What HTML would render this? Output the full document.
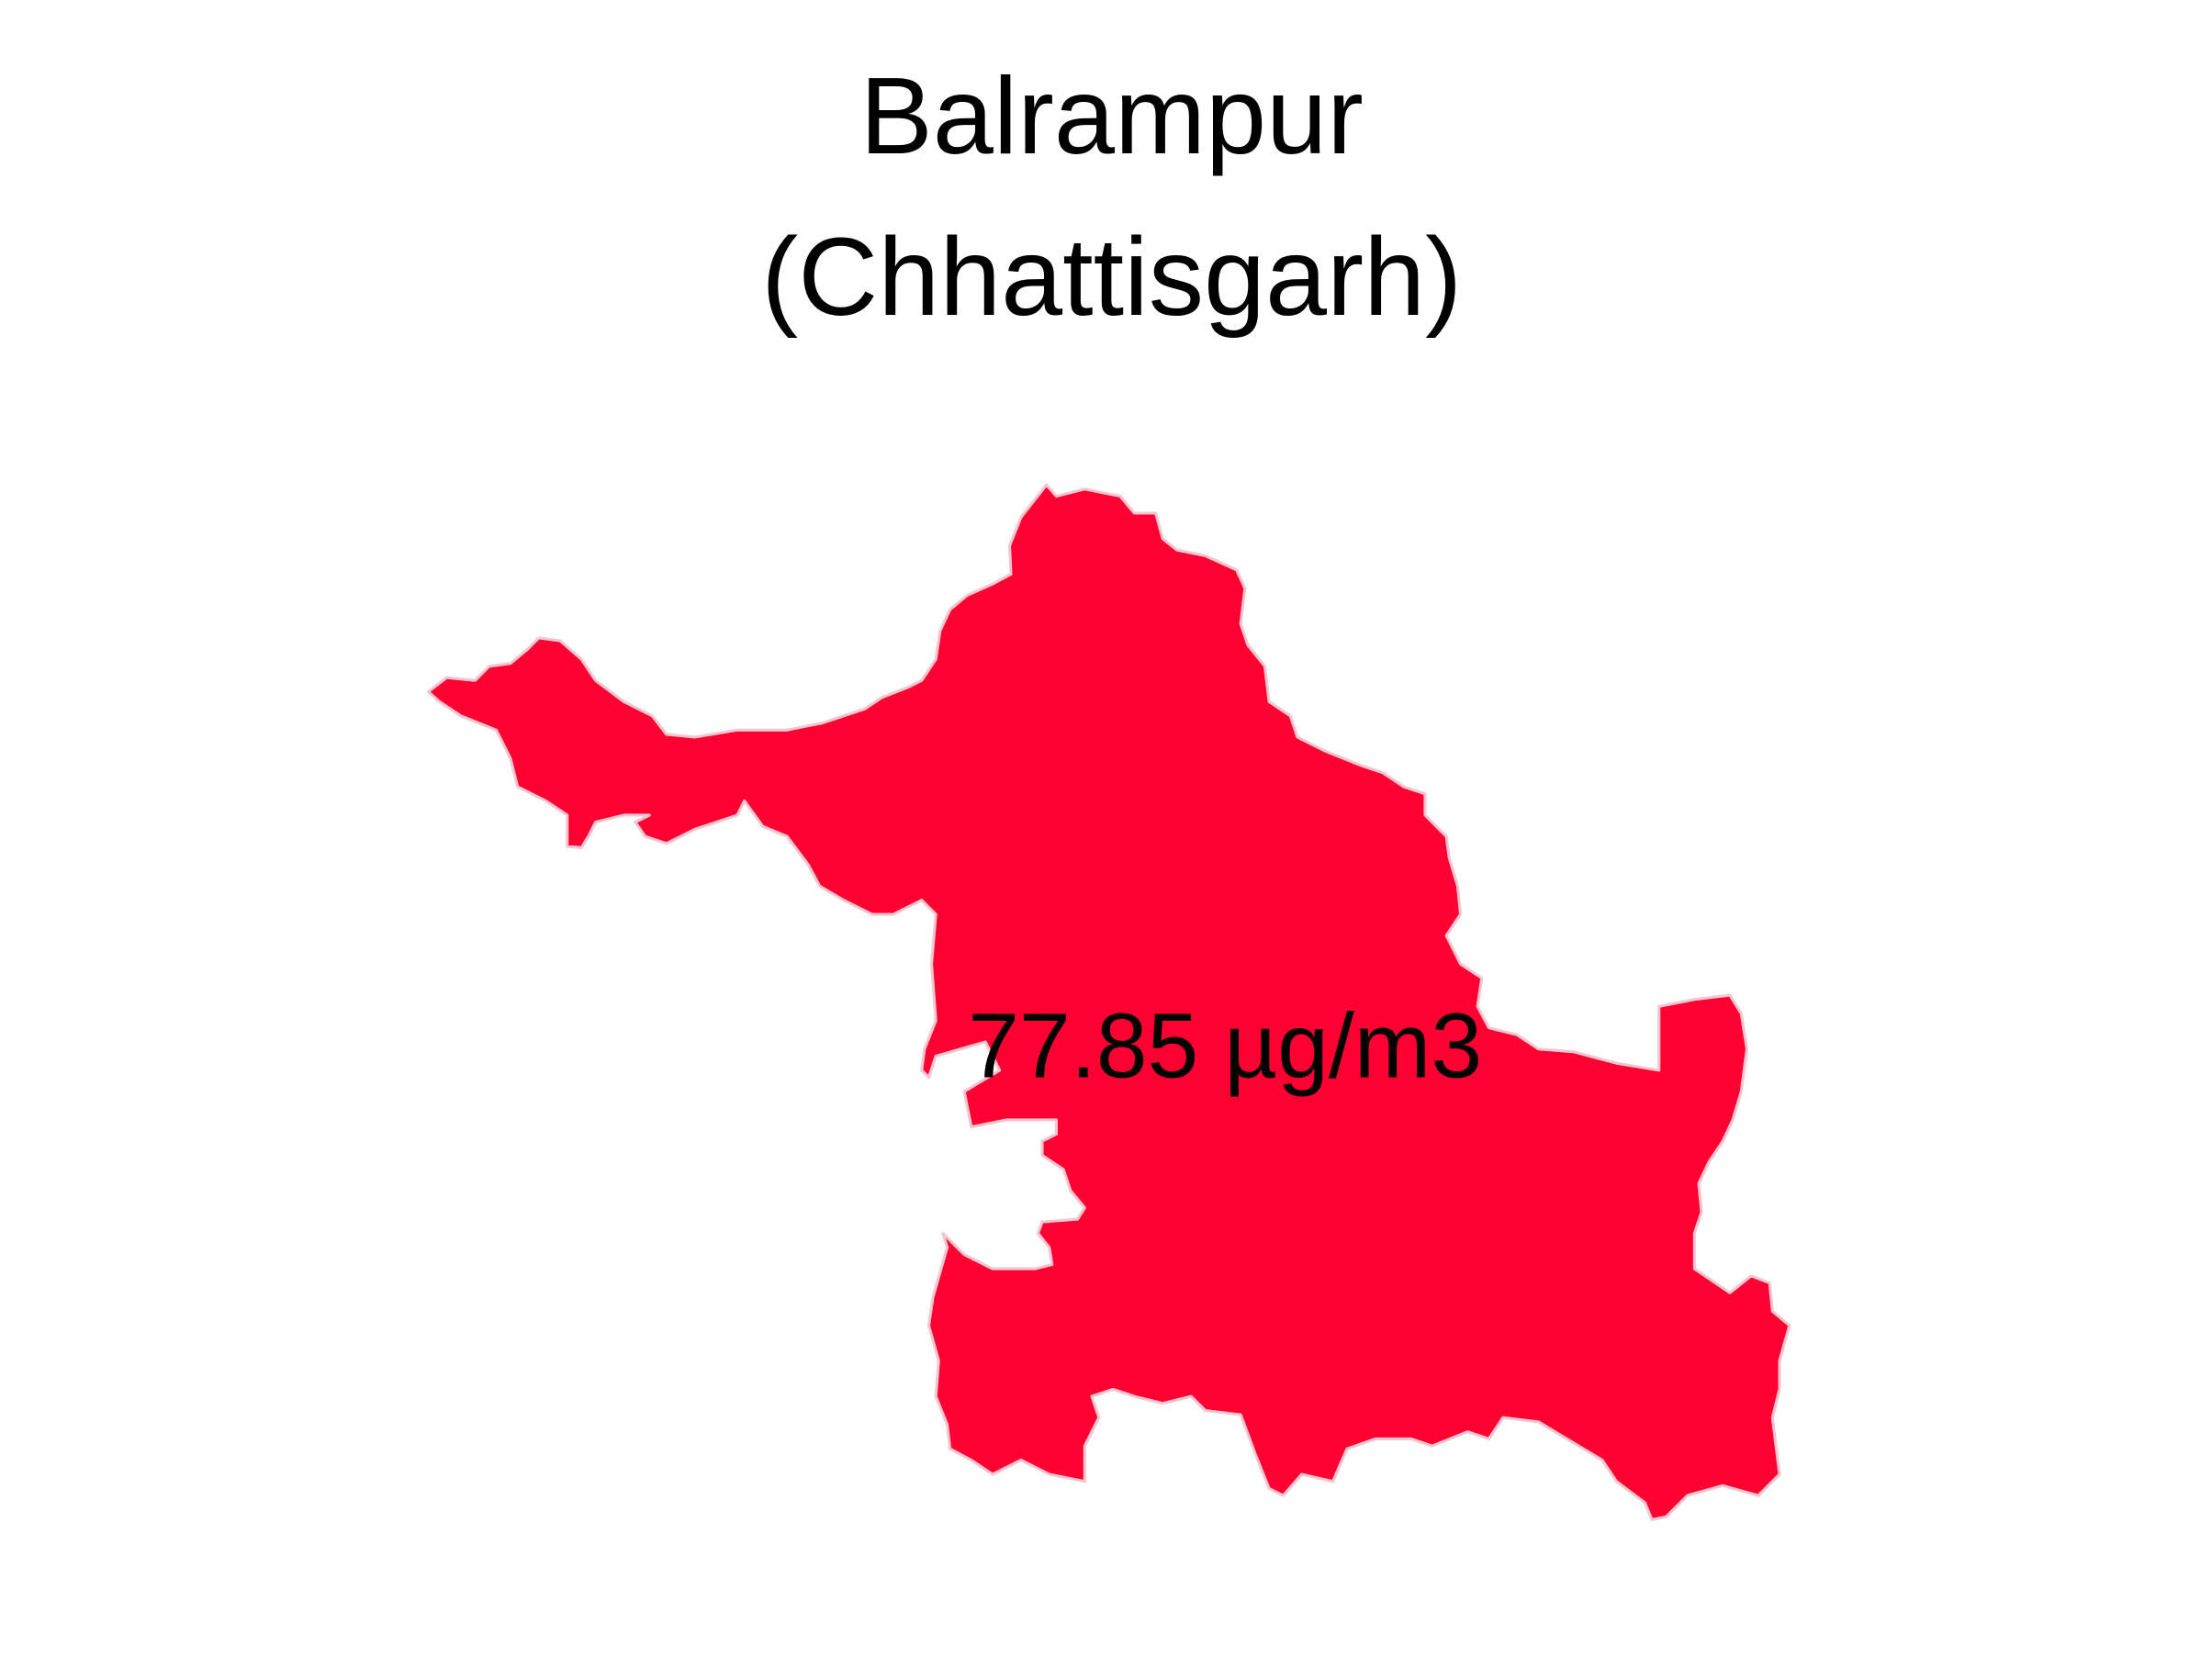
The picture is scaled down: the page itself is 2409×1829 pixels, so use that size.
<!DOCTYPE html>
<html><head><meta charset="utf-8"><style>
html,body{margin:0;padding:0;background:#fff;}
svg{display:block;}
text{font-family:"Liberation Sans",sans-serif;fill:#000;}
</style></head>
<body>
<svg width="2409" height="1829" viewBox="0 0 1560 1184.4" xmlns="http://www.w3.org/2000/svg">
<rect x="0" y="0" width="1560" height="1184.4" fill="#ffffff"/>
<text x="784" y="108" font-size="77" text-anchor="middle">Balrampur</text>
<text x="784" y="222" font-size="78" text-anchor="middle">(Chhattisgarh)</text>
<path fill="#FF0033" stroke="#f3c6cf" stroke-width="2" stroke-linejoin="round" d="M738,342 L745,350 765,345 790,350 800,362 815,362 820,380 830,388 850,392 872,402 878,415 875,440 880,455 892,470 895,495 910,505 915,520 935,530 960,540 975,545 990,555 1005,560 1005,575 1020,590 1022,605 1028,625 1030,645 1020,660 1030,680 1045,690 1042,710 1050,725 1070,730 1085,740 1110,742 1140,750 1170,755 1170,710 1195,705 1220,702 1228,715 1232,740 1228,770 1222,790 1215,805 1205,820 1198,835 1200,855 1195,870 1195,895 1220,912 1235,900 1248,905 1250,925 1262,935 1255,960 1255,980 1250,1000 1255,1040 1240,1055 1215,1048 1190,1055 1175,1070 1165,1072 1160,1060 1140,1045 1130,1030 1105,1015 1085,1003 1060,1000 1050,1015 1035,1010 1010,1020 995,1015 970,1015 950,1022 940,1045 918,1040 905,1055 895,1050 885,1025 875,998 850,995 840,985 820,990 800,985 785,980 770,985 775,1000 765,1020 765,1045 740,1040 720,1030 700,1040 685,1030 670,1022 668,1005 660,985 662,960 655,935 658,915 668,880 665,870 680,885 700,895 730,895 742,892 740,880 732,870 735,862 760,860 765,852 755,840 750,825 735,815 735,805 745,800 745,790 710,790 685,795 680,770 705,755 695,735 660,745 655,760 650,755 652,740 660,720 657,680 660,645 650,635 630,645 615,645 595,635 578,625 570,610 555,590 538,583 525,565 520,575 505,580 490,585 470,595 455,590 448,580 458,575 440,575 420,580 415,590 410,598 400,597 400,575 385,565 365,555 360,535 350,515 325,505 310,495 302,488 315,478 335,480 345,470 360,468 372,458 380,450 395,452 410,465 420,480 440,495 460,505 470,518 490,520 520,515 555,515 580,510 610,500 622,492 640,485 650,480 660,465 663,445 670,430 682,420 700,412 713,405 712,385 720,365 Z"/>
<text x="864" y="760" font-size="65" text-anchor="middle">77.85 µg/m3</text>
</svg>
</body></html>
